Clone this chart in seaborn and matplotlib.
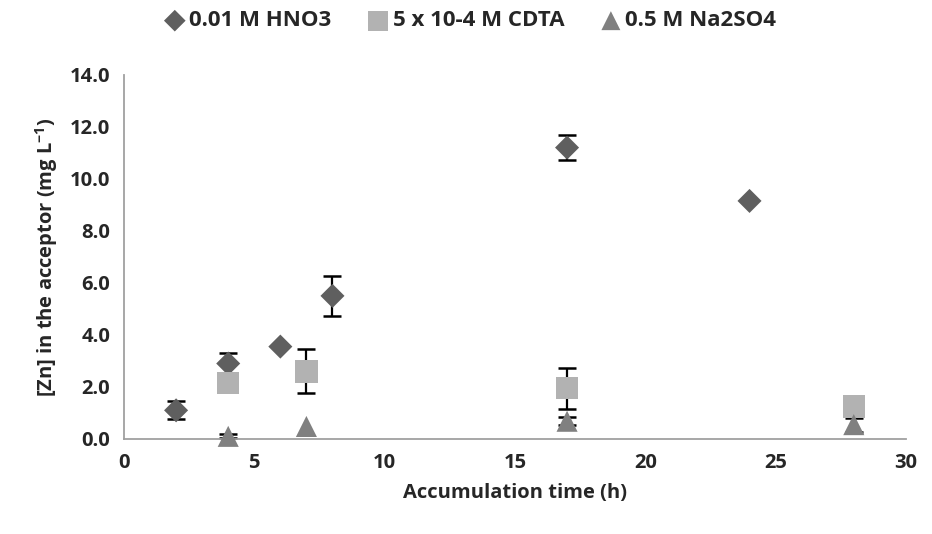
import pandas as pd
import numpy as np
import matplotlib.pyplot as plt
import seaborn as sns

# Data
series = ['0.01 M HNO3', '5 x 10-4 M CDTA', '0.5 M Na2SO4']

hno3_time = [2, 4, 6, 8, 17, 24]
hno3_zn = [1.1, 2.9, 3.55, 5.5, 11.2, 9.15]
hno3_err = [0.35, 0.4, 0.0, 0.77, 0.48, 0.0]

cdta_time = [4, 7, 17, 28]
cdta_zn = [2.15, 2.6, 1.95, 1.25]
cdta_err = [0.0, 0.85, 0.78, 0.0]

na2so4_time = [4, 7, 17, 28]
na2so4_zn = [0.1, 0.48, 0.68, 0.55]
na2so4_err = [0.08, 0.0, 0.15, 0.27]

df = pd.concat([
    pd.DataFrame({'time': hno3_time, 'zn': hno3_zn, 'err': hno3_err, 'series': series[0]}),
    pd.DataFrame({'time': cdta_time, 'zn': cdta_zn, 'err': cdta_err, 'series': series[1]}),
    pd.DataFrame({'time': na2so4_time, 'zn': na2so4_zn, 'err': na2so4_err, 'series': series[2]}),
], ignore_index=True)

colors = {series[0]: '#5f5f5f', series[1]: '#b2b2b2', series[2]: '#808080'}
markers = {series[0]: 'D', series[1]: 's', series[2]: '^'}
sizes = {series[0]: 150, series[1]: 260, series[2]: 230}

sns.set_style('white')
plt.rcParams['font.family'] = ['Open Sans', 'DejaVu Sans']
plt.rcParams['font.weight'] = 'bold'
plt.rcParams['mathtext.fontset'] = 'custom'
plt.rcParams['mathtext.bf'] = 'Open Sans:bold'

fs = 14.5

fig, ax = plt.subplots(figsize=(9.32, 5.34), dpi=100)
fig.subplots_adjust(left=0.133, right=0.972, bottom=0.178, top=0.86)

# error bars behind the markers
for s in series:
    d = df[(df['series'] == s) & (df['err'] > 0)]
    ax.errorbar(d['time'], d['zn'], yerr=d['err'], fmt='none', ecolor='black',
                elinewidth=1.6, capsize=6.5, capthick=1.8, zorder=1)

for s in series:
    d = df[df['series'] == s]
    sns.scatterplot(data=d, x='time', y='zn', ax=ax, color=colors[s], marker=markers[s],
                    s=sizes[s], edgecolor='none', label=s, zorder=3, clip_on=False)

ax.set_xlim(0, 30)
ax.set_ylim(0, 14)
ax.set_xticks(np.arange(0, 31, 5))
ax.set_yticks(np.arange(0, 14.1, 2))
ax.set_yticklabels([f'{v:.1f}' for v in np.arange(0, 14.1, 2)])

for side in ['top', 'right']:
    ax.spines[side].set_visible(False)
for side in ['left', 'bottom']:
    ax.spines[side].set_color('#a0a0a0')
    ax.spines[side].set_linewidth(1.3)
ax.tick_params(axis='both', which='major', direction='out', length=6, width=1.2,
               color='#a0a0a0', labelsize=fs, pad=4)
for lab in ax.get_xticklabels() + ax.get_yticklabels():
    lab.set_fontweight('bold')

ax.set_xlabel('Accumulation time (h)', fontsize=fs, fontweight='bold', labelpad=7)
ax.set_ylabel('[Zn] in the acceptor (mg L$^{\\mathbf{-1}}$)', fontsize=fs,
              fontweight='bold', labelpad=7)

handles, labels = ax.get_legend_handles_labels()
ax.get_legend().remove()
leg = fig.legend(handles, labels, loc='center', bbox_to_anchor=(470 / 932, 1 - 21 / 534),
                 ncol=3, frameon=False, fontsize=16, handlelength=1.0, handletextpad=0.15,
                 columnspacing=1.6, markerscale=0.9, borderaxespad=0)
for t in leg.get_texts():
    t.set_fontweight('bold')

plt.savefig('out.png', dpi=100)
